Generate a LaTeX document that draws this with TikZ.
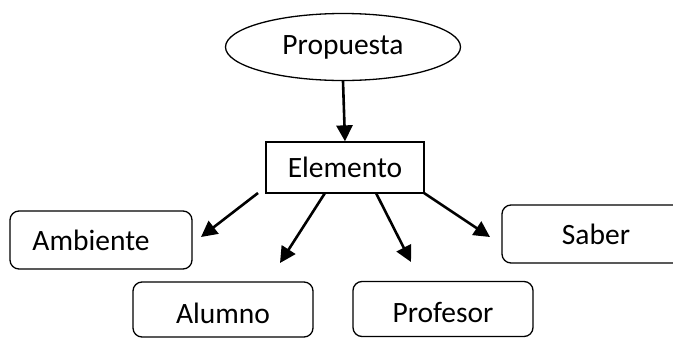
\documentclass[tikz,border=0pt]{standalone}
\usepackage{fontspec}
\setmainfont{Carlito}
\usetikzlibrary{arrows.meta,shapes.geometric}
\begin{document}
\begin{tikzpicture}[x=1pt,y=-1pt,
  every node/.style={font=\fontsize{29.5}{34}\selectfont, inner sep=0pt},
  shapeline/.style={draw, line width=1.3pt},
  roundbox/.style={shapeline, rounded corners=9pt},
  arr/.style={line width=2.6pt, -{Triangle[length=16pt,width=16pt]}}]
\useasboundingbox (0,0) rectangle (673,338);
\clip (0,0) rectangle (673,338);
\node[shapeline, ellipse, minimum width=235pt, minimum height=67pt] (prop) at (343,47) {Propuesta};
\node[shapeline, minimum width=158pt, minimum height=51pt] (elem) at (345,167.5) {Elemento};
\node[roundbox, minimum width=182pt, minimum height=58pt] (amb) at (101,240) {Ambiente\hspace*{20pt}};
\node[roundbox, minimum width=180pt, minimum height=55pt, text depth=0pt, text height=27pt] (alu) at (223,309.5) {Alumno};
\node[roundbox, minimum width=180pt, minimum height=55pt, text depth=0pt, text height=27pt] (pro) at (443,309) {Profesor};
\node[roundbox, minimum width=188pt, minimum height=58pt] (sab) at (596,234) {Saber};
\coordinate (s1) at (258,193); \coordinate (t1) at (201,237);
\coordinate (s2) at (325,193); \coordinate (t2) at (280,263);
\coordinate (s3) at (376,193); \coordinate (t3) at (411,262);
\coordinate (s4) at (424,193); \coordinate (t4) at (490,237);
\draw[arr] (prop.south) -- (elem.north);
\draw[arr] (s1) -- (t1);
\draw[arr] (s2) -- (t2);
\draw[arr] (s3) -- (t3);
\draw[arr] (s4) -- (t4);
\end{tikzpicture}
\end{document}
